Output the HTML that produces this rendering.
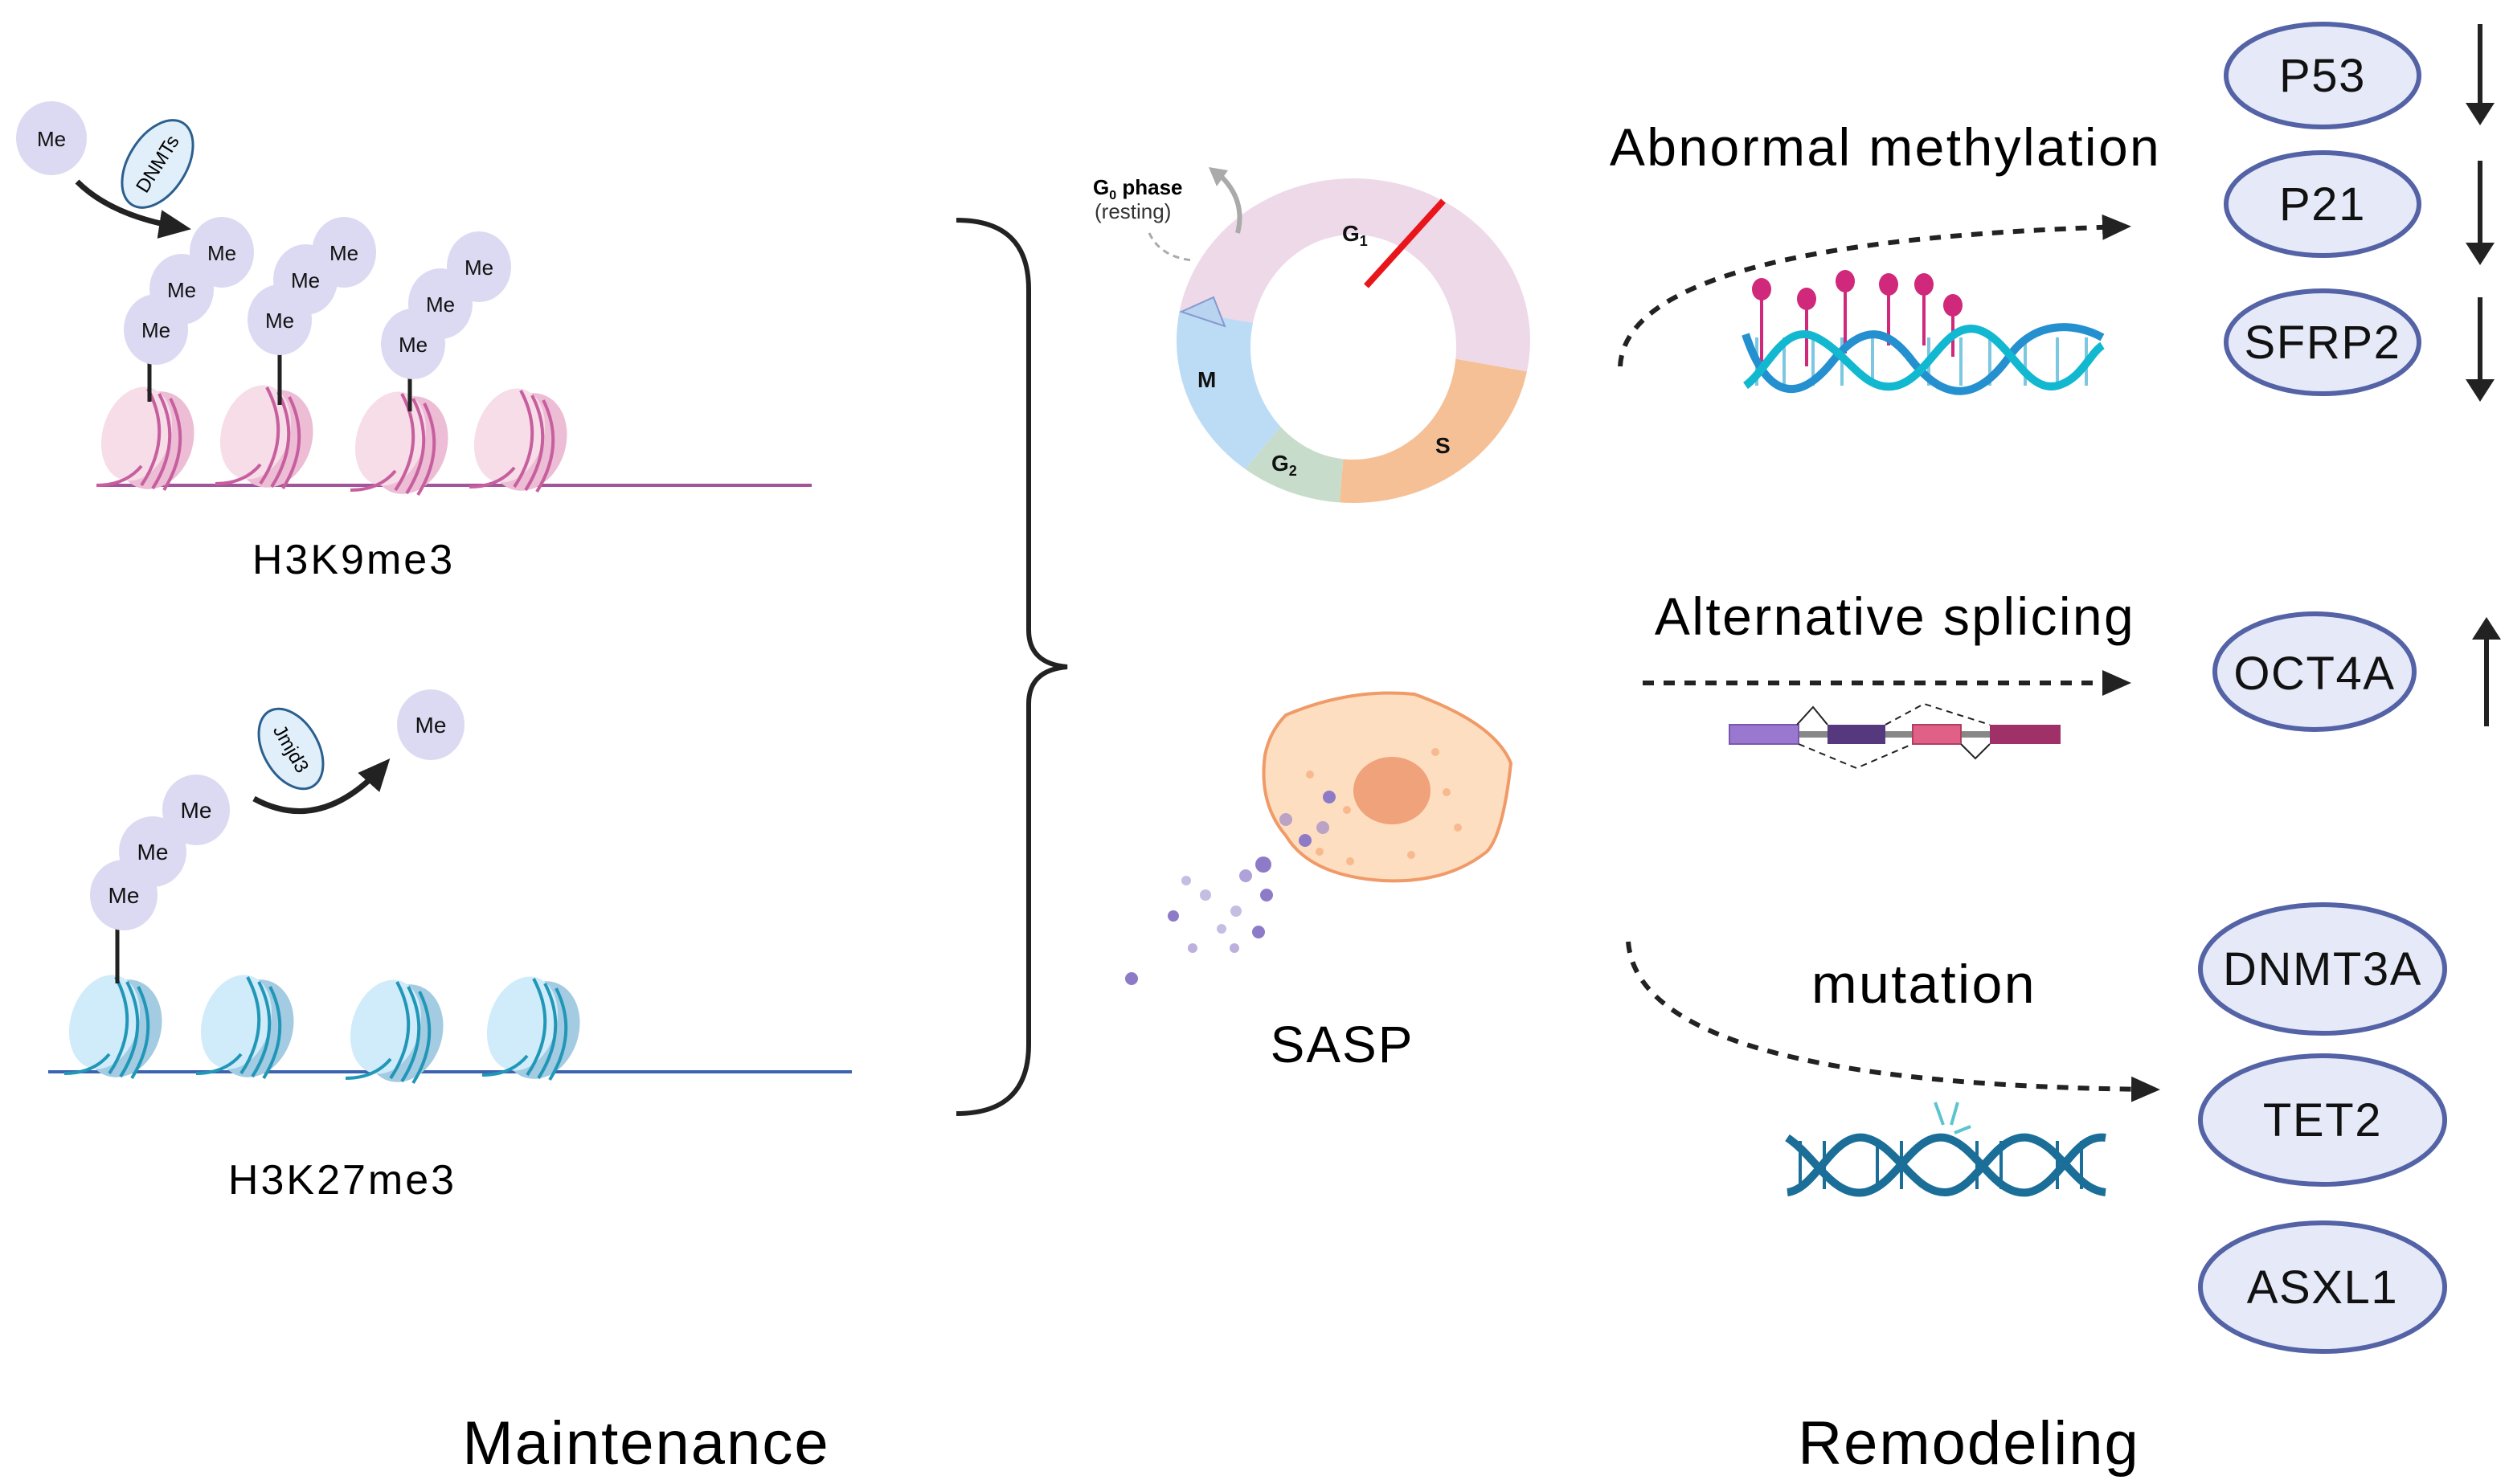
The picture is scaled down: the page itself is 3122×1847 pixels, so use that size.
<!DOCTYPE html>
<html><head><meta charset="utf-8"><style>
html,body{margin:0;padding:0;background:#fff;}
svg{display:block;}
text{font-family:"Liberation Sans",sans-serif;}
</style></head><body>
<svg width="3122" height="1847" viewBox="0 0 1561 923.5" xmlns="http://www.w3.org/2000/svg">
<defs>
<marker id="ahd" markerWidth="20" markerHeight="18" refX="16" refY="9" orient="auto" markerUnits="userSpaceOnUse"><path d="M0,0 L20,9 L0,18 Z" fill="#222"/></marker>
<marker id="ahb" markerWidth="18" markerHeight="16" refX="14" refY="8" orient="auto" markerUnits="userSpaceOnUse"><path d="M0,0 L18,8 L0,16 Z" fill="#222"/></marker>
<clipPath id="ring"><ellipse cx="842" cy="212" rx="110" ry="101"/></clipPath>
<g id="nucP">
 <ellipse cx="8" cy="2" rx="24" ry="31" fill="#ecbdd4" transform="rotate(18 8 2)"/>
 <ellipse cx="-3" cy="-2" rx="21" ry="30" fill="#f6dde8" transform="rotate(18 -3 -2)"/>
 <path d="M4,-30 Q20,0 0,30" stroke="#c75f9f" stroke-width="2" fill="none"/>
 <path d="M11,-27 Q26,2 7,32" stroke="#c75f9f" stroke-width="2" fill="none"/>
 <path d="M18,-24 Q32,4 14,33" stroke="#c75f9f" stroke-width="2" fill="none"/>
 <path d="M-28,30 Q-10,30 0,18" stroke="#c75f9f" stroke-width="2" fill="none"/>
</g>
<g id="nucB">
 <ellipse cx="8" cy="2" rx="24" ry="31" fill="#a3cbe2" transform="rotate(18 8 2)"/>
 <ellipse cx="-3" cy="-2" rx="21" ry="30" fill="#d0ebf9" transform="rotate(18 -3 -2)"/>
 <path d="M4,-30 Q20,0 0,30" stroke="#2197b8" stroke-width="2" fill="none"/>
 <path d="M11,-27 Q26,2 7,32" stroke="#2197b8" stroke-width="2" fill="none"/>
 <path d="M18,-24 Q32,4 14,33" stroke="#2197b8" stroke-width="2" fill="none"/>
 <path d="M-28,30 Q-10,30 0,18" stroke="#2197b8" stroke-width="2" fill="none"/>
</g>
</defs>

<!-- H3K9me3 -->
<line x1="60" y1="302" x2="505" y2="302" stroke="#a2559a" stroke-width="2"/>
<use href="#nucP" x="88" y="272"/>
<use href="#nucP" x="162" y="271"/>
<use href="#nucP" x="246" y="275"/>
<use href="#nucP" x="320" y="273"/>
<g stroke="#222" stroke-width="2.5">
<line x1="93" y1="225" x2="93" y2="250"/><line x1="174" y1="220" x2="174" y2="252"/><line x1="255" y1="232" x2="255" y2="256"/>
</g>
<g fill="#dcdaf2">
<ellipse cx="32" cy="86" rx="22" ry="23"/>
<ellipse cx="97" cy="205" rx="20" ry="22"/><ellipse cx="113" cy="180" rx="20" ry="22"/><ellipse cx="138" cy="157" rx="20" ry="22"/>
<ellipse cx="174" cy="199" rx="20" ry="22"/><ellipse cx="190" cy="174" rx="20" ry="22"/><ellipse cx="214" cy="157" rx="20" ry="22"/>
<ellipse cx="257" cy="214" rx="20" ry="22"/><ellipse cx="274" cy="189" rx="20" ry="22"/><ellipse cx="298" cy="166" rx="20" ry="22"/>
</g>
<g font-size="13" text-anchor="middle" fill="#111">
<text x="32" y="91">Me</text>
<text x="97" y="210">Me</text><text x="113" y="185">Me</text><text x="138" y="162">Me</text>
<text x="174" y="204">Me</text><text x="190" y="179">Me</text><text x="214" y="162">Me</text>
<text x="257" y="219">Me</text><text x="274" y="194">Me</text><text x="298" y="171">Me</text>
</g>
<path d="M48,113 Q70,135 115,142" stroke="#222" stroke-width="3.5" fill="none" marker-end="url(#ahd)"/>
<ellipse cx="98" cy="102" rx="30" ry="18" fill="#e0effa" stroke="#2b5f8e" stroke-width="1.5" transform="rotate(-58 98 102)"/>
<text x="98" y="106" font-size="12" text-anchor="middle" transform="rotate(-58 98 102)">DNMTs</text>
<text x="220" y="357" font-size="26" letter-spacing="1.5" text-anchor="middle">H3K9me3</text>

<!-- H3K27me3 -->
<line x1="30" y1="667" x2="530" y2="667" stroke="#3b63b0" stroke-width="2"/>
<use href="#nucB" x="68" y="638"/>
<use href="#nucB" x="150" y="638"/>
<use href="#nucB" x="243" y="641"/>
<use href="#nucB" x="328" y="639"/>
<line x1="73" y1="578" x2="73" y2="612" stroke="#222" stroke-width="2.5"/>
<g fill="#dcdaf2">
<ellipse cx="268" cy="451" rx="21" ry="22"/>
<ellipse cx="77" cy="557" rx="21" ry="22"/><ellipse cx="95" cy="530" rx="21" ry="22"/><ellipse cx="122" cy="504" rx="21" ry="22"/>
</g>
<g font-size="14" text-anchor="middle" fill="#111">
<text x="268" y="456">Me</text><text x="77" y="562">Me</text><text x="95" y="535">Me</text><text x="122" y="509">Me</text>
</g>
<path d="M158,497 Q200,520 240,475" stroke="#222" stroke-width="3.5" fill="none" marker-end="url(#ahd)"/>
<ellipse cx="181" cy="466" rx="27" ry="17" fill="#e0effa" stroke="#2b5f8e" stroke-width="1.5" transform="rotate(60 181 466)"/>
<text x="181" y="470" font-size="12" text-anchor="middle" transform="rotate(60 181 466)">Jmjd3</text>
<text x="213" y="743" font-size="26" letter-spacing="1.5" text-anchor="middle">H3K27me3</text>

<text x="402" y="911" font-size="38" letter-spacing="1" text-anchor="middle">Maintenance</text>
<text x="1225" y="911" font-size="38" letter-spacing="1" text-anchor="middle">Remodeling</text>

<!-- brace -->
<path d="M595,137 Q640,137 640,180 L640,392 Q640,413 664,415 Q640,417 640,438 L640,650 Q640,693 595,693" stroke="#222" stroke-width="3" fill="none"/>

<!-- cell cycle -->
<g clip-path="url(#ring)">
<polygon points="842,212 645,177 700,0 1060,0 1039,247" fill="#eed9e9"/>
<polygon points="842,212 1039,247 1060,430 825,411" fill="#f5c095"/>
<polygon points="842,212 825,411 713,365" fill="#c8dccb"/>
<polygon points="842,212 713,365 600,420 600,160 645,177" fill="#bcdcf5"/>
</g>
<ellipse cx="842" cy="216" rx="64" ry="70" fill="#fff"/>
<path d="M735,194 L755,185 L762,203 Z" fill="#b8d4f0" stroke="#8899cc" stroke-width="1"/>
<g font-size="14" font-weight="bold" fill="#111">
<text x="835" y="150">G<tspan font-size="9" dy="3">1</tspan></text>
<text x="893" y="282">S</text>
<text x="791" y="293">G<tspan font-size="9" dy="3">2</tspan></text>
<text x="745" y="241">M</text>
</g>
<line x1="898" y1="125" x2="850" y2="178" stroke="#e8161b" stroke-width="4"/>
<text x="680" y="121" font-size="13" font-weight="bold">G<tspan font-size="8" dy="3">0</tspan><tspan dy="-3"> phase</tspan></text>
<text x="681" y="136" font-size="13" fill="#333">(resting)</text>
<path d="M760,110 Q775,125 770,145" stroke="#aaa" stroke-width="3" fill="none"/>
<path d="M752,104 L764,106 L757,116 Z" fill="#aaa"/>
<path d="M715,145 Q722,160 742,162" stroke="#aaa" stroke-width="1.5" stroke-dasharray="4,3" fill="none"/>

<!-- SASP cell -->
<path d="M800,445 Q840,428 880,432 Q930,450 940,475 Q935,520 925,530 Q900,550 860,548 Q815,545 800,520 Q783,500 787,470 Q790,455 800,445 Z" fill="#fddec0" stroke="#f09a68" stroke-width="2"/>
<ellipse cx="866" cy="492" rx="24" ry="21" fill="#f0a27a"/>
<g fill="#f8b98e">
<circle cx="838" cy="504" r="2.5"/><circle cx="893" cy="468" r="2.5"/><circle cx="815" cy="482" r="2.5"/><circle cx="840" cy="536" r="2.5"/>
<circle cx="907" cy="515" r="2.5"/><circle cx="878" cy="532" r="2.5"/><circle cx="900" cy="493" r="2.5"/><circle cx="821" cy="530" r="2.5"/>
</g>
<g fill="#8d7bc8">
<circle cx="827" cy="496" r="4"/><circle cx="823" cy="515" r="4" opacity=".6"/><circle cx="812" cy="523" r="4"/>
<circle cx="786" cy="538" r="5"/><circle cx="800" cy="510" r="4" opacity=".6"/><circle cx="775" cy="545" r="4" opacity=".7"/>
<circle cx="769" cy="567" r="3.5" opacity=".5"/><circle cx="788" cy="557" r="4"/><circle cx="750" cy="557" r="3.5" opacity=".5"/>
<circle cx="730" cy="570" r="3.5"/><circle cx="783" cy="580" r="4"/><circle cx="760" cy="578" r="3" opacity=".5"/>
<circle cx="742" cy="590" r="3" opacity=".6"/><circle cx="768" cy="590" r="3" opacity=".6"/><circle cx="704" cy="609" r="4"/>
<circle cx="738" cy="548" r="3" opacity=".5"/>
</g>
<text x="835" y="661" font-size="32" letter-spacing="1" text-anchor="middle">SASP</text>

<!-- Abnormal methylation -->
<text x="1173" y="103" font-size="33" letter-spacing="1.2" text-anchor="middle">Abnormal methylation</text>
<path d="M1008,228 Q1012,150 1322,141" stroke="#222" stroke-width="3" stroke-dasharray="7,6" fill="none" marker-end="url(#ahb)"/>
<g stroke="#d0287a" stroke-width="2">
<line x1="1096" y1="180" x2="1096" y2="225"/><line x1="1124" y1="186" x2="1124" y2="228"/><line x1="1148" y1="175" x2="1148" y2="220"/>
<line x1="1175" y1="177" x2="1175" y2="215"/><line x1="1197" y1="177" x2="1197" y2="215"/><line x1="1215" y1="190" x2="1215" y2="222"/>
</g>
<g fill="#d0287a">
<ellipse cx="1096" cy="180" rx="6" ry="7"/><ellipse cx="1124" cy="186" rx="6" ry="7"/><ellipse cx="1148" cy="175" rx="6" ry="7"/>
<ellipse cx="1175" cy="177" rx="6" ry="7"/><ellipse cx="1197" cy="177" rx="6" ry="7"/><ellipse cx="1215" cy="190" rx="6" ry="7"/>
</g>
<g stroke="#7cc8e0" stroke-width="2">
<line x1="1093" y1="210" x2="1093" y2="240"/><line x1="1110" y1="210" x2="1110" y2="240"/><line x1="1128" y1="210" x2="1128" y2="240"/>
<line x1="1146" y1="210" x2="1146" y2="240"/><line x1="1165" y1="210" x2="1165" y2="240"/><line x1="1200" y1="210" x2="1200" y2="240"/>
<line x1="1220" y1="210" x2="1220" y2="240"/><line x1="1238" y1="210" x2="1238" y2="240"/><line x1="1260" y1="210" x2="1260" y2="240"/>
<line x1="1280" y1="210" x2="1280" y2="240"/><line x1="1298" y1="210" x2="1298" y2="240"/>
</g>
<path d="M1086,208 C1100,250 1120,250 1140,225 C1160,200 1175,205 1190,225 C1210,250 1230,250 1250,222 C1265,200 1290,200 1308,210" stroke="#2590d0" stroke-width="5" fill="none"/>
<path d="M1086,240 C1100,230 1110,200 1130,210 C1150,220 1160,245 1180,240 C1200,235 1210,200 1230,205 C1250,210 1260,245 1280,240 C1295,236 1300,220 1308,215" stroke="#12b8d0" stroke-width="5" fill="none"/>

<!-- right ellipses -->
<g fill="#e6eaf8" stroke="#5462a6" stroke-width="3">
<ellipse cx="1445" cy="47" rx="60" ry="32"/>
<ellipse cx="1445" cy="127" rx="60" ry="32"/>
<ellipse cx="1445" cy="213" rx="60" ry="32"/>
<ellipse cx="1440" cy="418" rx="62" ry="36"/>
<ellipse cx="1445" cy="603" rx="76" ry="40"/>
<ellipse cx="1445" cy="697" rx="76" ry="40"/>
<ellipse cx="1445" cy="801" rx="76" ry="40"/>
</g>
<g font-size="29" letter-spacing="0.8" text-anchor="middle" fill="#111">
<text x="1445" y="57">P53</text>
<text x="1445" y="137">P21</text>
<text x="1445" y="223">SFRP2</text>
<text x="1440" y="429">OCT4A</text>
<text x="1445" y="613">DNMT3A</text>
<text x="1445" y="707">TET2</text>
<text x="1445" y="811">ASXL1</text>
</g>
<g stroke="#222" stroke-width="3">
<line x1="1543" y1="15" x2="1543" y2="68"/><line x1="1543" y1="100" x2="1543" y2="155"/><line x1="1543" y1="185" x2="1543" y2="240"/>
<line x1="1547" y1="452" x2="1547" y2="395"/>
</g>
<g fill="#222">
<path d="M1534,64 L1552,64 L1543,78 Z"/><path d="M1534,151 L1552,151 L1543,165 Z"/><path d="M1534,236 L1552,236 L1543,250 Z"/>
<path d="M1538,398 L1556,398 L1547,384 Z"/>
</g>

<!-- Alternative splicing -->
<text x="1179" y="395" font-size="33" letter-spacing="1.2" text-anchor="middle">Alternative splicing</text>
<line x1="1022" y1="425" x2="1322" y2="425" stroke="#222" stroke-width="3" stroke-dasharray="7,6" marker-end="url(#ahb)"/>
<line x1="1118" y1="457" x2="1238" y2="457" stroke="#888" stroke-width="4"/>
<rect x="1076" y="451" width="43" height="12" fill="#9a78d0" stroke="#7a58b0"/>
<rect x="1137" y="451" width="36" height="12" fill="#56387e"/>
<rect x="1190" y="451" width="30" height="12" fill="#e06088" stroke="#b04060"/>
<rect x="1238" y="451" width="44" height="12" fill="#a03068"/>
<path d="M1118,451 L1128,440 L1137,451" stroke="#222" fill="none"/>
<path d="M1220,463 L1229,472 L1238,463" stroke="#222" fill="none"/>
<path d="M1173,451 L1197,438 L1238,451" stroke="#222" stroke-dasharray="4,3" fill="none"/>
<path d="M1119,463 L1155,478 L1190,463" stroke="#222" stroke-dasharray="4,3" fill="none"/>

<!-- mutation -->
<text x="1197" y="624" font-size="34" letter-spacing="1.2" text-anchor="middle">mutation</text>
<path d="M1013,586 Q1020,675 1340,678" stroke="#222" stroke-width="3" stroke-dasharray="7,6" fill="none" marker-end="url(#ahb)"/>
<g stroke="#1a6e98" stroke-width="2">
<line x1="1120" y1="710" x2="1120" y2="740"/><line x1="1135" y1="710" x2="1135" y2="740"/><line x1="1168" y1="710" x2="1168" y2="740"/>
<line x1="1183" y1="710" x2="1183" y2="740"/><line x1="1230" y1="710" x2="1230" y2="740"/><line x1="1245" y1="710" x2="1245" y2="740"/>
<line x1="1280" y1="710" x2="1280" y2="740"/><line x1="1295" y1="710" x2="1295" y2="740"/>
</g>
<path d="M1112,708 C1130,720 1140,745 1160,742 C1180,738 1190,705 1210,708 C1230,712 1240,745 1262,742 C1282,738 1290,705 1310,708" stroke="#1a6e98" stroke-width="5" fill="none"/>
<path d="M1112,742 C1130,740 1140,705 1160,708 C1180,712 1190,742 1210,742 C1230,742 1240,705 1262,708 C1282,712 1290,740 1310,742" stroke="#1a6e98" stroke-width="5" fill="none"/>
<g stroke="#5cc4d0" stroke-width="2">
<line x1="1204" y1="686" x2="1209" y2="700"/><line x1="1218" y1="686" x2="1214" y2="700"/><line x1="1216" y1="705" x2="1226" y2="701"/>
</g>
</svg>
</body></html>
